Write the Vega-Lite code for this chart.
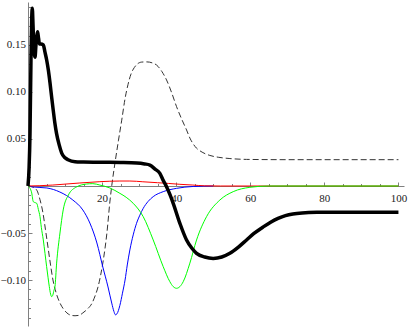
{
  "$schema": "https://vega.github.io/schema/vega-lite/v6.json",
  "width": 376,
  "height": 324,
  "autosize": "none",
  "padding": {"left": 28, "top": 2, "right": 5, "bottom": 1},
  "background": "white",
  "config": {
    "view": {"stroke": null},
    "axis": {"labelFont": "Liberation Serif", "labelFontSize": 11, "labelColor": "#222", "domainColor": "#808080", "tickColor": "#808080", "grid": false, "title": null}
  },
  "datasets": {
    "black": [
      {"x":0,"y":0},{"x":0.3,"y":0.02},{"x":0.54,"y":0.056},{"x":0.8,"y":0.134},{"x":1.0,"y":0.178},{"x":1.16,"y":0.189},{"x":1.35,"y":0.172},{"x":1.55,"y":0.15},{"x":1.89,"y":0.137},{"x":2.15,"y":0.15},{"x":2.4,"y":0.16},{"x":2.6,"y":0.164},{"x":2.85,"y":0.157},{"x":3.1,"y":0.151},{"x":3.5,"y":0.151},{"x":4.12,"y":0.15},{"x":4.6,"y":0.142},{"x":5.04,"y":0.134},{"x":5.5,"y":0.123},{"x":5.93,"y":0.11},{"x":6.4,"y":0.094},{"x":6.8,"y":0.081},{"x":7.25,"y":0.067},{"x":7.7,"y":0.056},{"x":8.4,"y":0.044},{"x":9.1,"y":0.035},{"x":10,"y":0.03},{"x":10.8,"y":0.028},{"x":12.7,"y":0.0258},{"x":15,"y":0.0255},{"x":20,"y":0.0252},{"x":25,"y":0.025},{"x":29.4,"y":0.0245},{"x":31.5,"y":0.0235},{"x":32.9,"y":0.0223},{"x":34.3,"y":0.018},{"x":35.6,"y":0.0135},{"x":36.5,"y":0.006},{"x":37.4,"y":-0.0007},{"x":38.3,"y":-0.009},{"x":39.2,"y":-0.0184},{"x":41.0,"y":-0.0397},{"x":42.8,"y":-0.0574},{"x":44.2,"y":-0.066},{"x":45.5,"y":-0.0716},{"x":47.7,"y":-0.0755},{"x":50,"y":-0.077},{"x":52.3,"y":-0.0755},{"x":54.5,"y":-0.0716},{"x":56.8,"y":-0.065},{"x":59,"y":-0.0574},{"x":61,"y":-0.0505},{"x":63.5,"y":-0.0435},{"x":65.5,"y":-0.0385},{"x":67.5,"y":-0.0345},{"x":69.5,"y":-0.0315},{"x":71.5,"y":-0.0297},{"x":74,"y":-0.0286},{"x":78,"y":-0.028},{"x":85,"y":-0.0278},{"x":100,"y":-0.0278}
    ],
    "dashed": [
      {"x":0,"y":0},{"x":1.2,"y":-0.001},{"x":2.35,"y":-0.0043},{"x":3.2,"y":-0.014},{"x":4.04,"y":-0.0287},{"x":4.7,"y":-0.046},{"x":5.39,"y":-0.0649},{"x":6.05,"y":-0.083},{"x":6.74,"y":-0.1},{"x":7.7,"y":-0.115},{"x":8.63,"y":-0.1245},{"x":9.6,"y":-0.131},{"x":10.5,"y":-0.135},{"x":11.6,"y":-0.1375},{"x":12.7,"y":-0.138},{"x":13.8,"y":-0.1375},{"x":14.8,"y":-0.135},{"x":16,"y":-0.131},{"x":17.3,"y":-0.1245},{"x":18.1,"y":-0.117},{"x":18.9,"y":-0.1074},{"x":19.6,"y":-0.095},{"x":20.2,"y":-0.0819},{"x":20.8,"y":-0.066},{"x":21.3,"y":-0.05},{"x":22.1,"y":-0.017},{"x":22.6,"y":0},{"x":23.5,"y":0.025},{"x":24.4,"y":0.048},{"x":25.3,"y":0.07},{"x":26.2,"y":0.093},{"x":27.0,"y":0.108},{"x":27.8,"y":0.119},{"x":28.7,"y":0.126},{"x":29.6,"y":0.13},{"x":30.7,"y":0.1318},{"x":32.1,"y":0.132},{"x":33.5,"y":0.131},{"x":34.7,"y":0.1287},{"x":36.1,"y":0.122},{"x":37.4,"y":0.1128},{"x":38.8,"y":0.099},{"x":40.1,"y":0.0844},{"x":41.5,"y":0.071},{"x":42.8,"y":0.0596},{"x":43.7,"y":0.051},{"x":45.1,"y":0.042},{"x":47,"y":0.036},{"x":49.1,"y":0.0325},{"x":51.5,"y":0.0305},{"x":54.5,"y":0.0292},{"x":59,"y":0.0283},{"x":70,"y":0.028},{"x":100,"y":0.028}
    ],
    "blue": [
      {"x":0,"y":0},{"x":1.35,"y":-0.001},{"x":5.1,"y":-0.0021},{"x":8.6,"y":-0.0064},{"x":12.1,"y":-0.0149},{"x":14.8,"y":-0.0255},{"x":16.7,"y":-0.0394},{"x":18.6,"y":-0.0606},{"x":20.2,"y":-0.0862},{"x":21.6,"y":-0.1074},{"x":22.6,"y":-0.1245},{"x":23.2,"y":-0.1335},{"x":23.6,"y":-0.137},{"x":24.0,"y":-0.136},{"x":24.8,"y":-0.127},{"x":25.5,"y":-0.114},{"x":26.2,"y":-0.1},{"x":26.8,"y":-0.084},{"x":27.5,"y":-0.068},{"x":28.4,"y":-0.052},{"x":29.3,"y":-0.0397},{"x":30.2,"y":-0.031},{"x":31.1,"y":-0.0238},{"x":32.4,"y":-0.0165},{"x":33.8,"y":-0.0113},{"x":36.5,"y":-0.006},{"x":40.1,"y":-0.0025},{"x":44.6,"y":-0.0005},{"x":50,"y":0}
    ],
    "red": [
      {"x":0,"y":0},{"x":3,"y":0.0003},{"x":6.7,"y":0.001},{"x":10,"y":0.002},{"x":14,"y":0.0032},{"x":19.4,"y":0.0046},{"x":24.8,"y":0.0053},{"x":27.5,"y":0.0053},{"x":31,"y":0.0045},{"x":35,"y":0.0035},{"x":38,"y":0.0027},{"x":41,"y":0.0018},{"x":44.5,"y":0.001},{"x":47.7,"y":0.0002},{"x":52,"y":0},{"x":100,"y":0}
    ],
    "green": [
      {"x":0,"y":0},{"x":0.5,"y":-0.002},{"x":1.0,"y":-0.0074},{"x":1.43,"y":-0.0167},{"x":1.8,"y":-0.0175},{"x":2.35,"y":-0.0184},{"x":2.8,"y":-0.025},{"x":3.24,"y":-0.0326},{"x":3.6,"y":-0.044},{"x":4.13,"y":-0.0574},{"x":4.6,"y":-0.072},{"x":5.03,"y":-0.0858},{"x":5.4,"y":-0.097},{"x":5.75,"y":-0.107},{"x":6.1,"y":-0.115},{"x":6.39,"y":-0.1177},{"x":6.7,"y":-0.116},{"x":7.0,"y":-0.111},{"x":7.28,"y":-0.107},{"x":7.73,"y":-0.082},{"x":8.63,"y":-0.05},{"x":9.5,"y":-0.0255},{"x":10.9,"y":-0.0096},{"x":13.1,"y":-0.001},{"x":15.8,"y":0.0021},{"x":17.5,"y":0.0025},{"x":19.4,"y":0.001},{"x":22.1,"y":-0.0021},{"x":24.8,"y":-0.0078},{"x":26.5,"y":-0.012},{"x":28.4,"y":-0.0184},{"x":31.1,"y":-0.0326},{"x":33.8,"y":-0.0574},{"x":36.5,"y":-0.0858},{"x":38.3,"y":-0.1018},{"x":39.2,"y":-0.107},{"x":40.1,"y":-0.1088},{"x":41.0,"y":-0.107},{"x":41.9,"y":-0.1018},{"x":43.7,"y":-0.082},{"x":45.5,"y":-0.0574},{"x":48.2,"y":-0.0326},{"x":51.8,"y":-0.0149},{"x":55.4,"y":-0.006},{"x":59.9,"y":-0.0014},{"x":65,"y":0},{"x":100,"y":0}
    ]
  },
  "resolve": {"axis": {"x": "independent", "y": "independent"}},
  "layer": [
    {
      "data": {"name": "dashed"},
      "mark": {"type": "line", "color": "#333333", "strokeWidth": 1, "strokeDash": [6, 3], "interpolate": "monotone"},
      "encoding": {
        "x": {"field": "x", "type": "quantitative", "scale": {"domain": [0, 101.5], "nice": false, "zero": false},
          "axis": {"orient": "bottom", "offset": -140, "values": [5,10,15,25,30,35,45,50,55,65,70,75,85,90,95], "labels": false, "tickSize": -2.5, "domain": true}},
        "y": {"field": "y", "type": "quantitative", "scale": {"domain": [-0.1489, 0.1957], "nice": false, "zero": false},
          "axis": {"orient": "left", "values": [-0.14,-0.13,-0.12,-0.11,-0.09,-0.08,-0.07,-0.06,-0.04,-0.03,-0.02,-0.01,0.01,0.02,0.03,0.04,0.06,0.07,0.08,0.09,0.11,0.12,0.13,0.14,0.16,0.17,0.18,0.19], "labels": false, "tickSize": -2.5, "domain": true}}
      }
    },
    {
      "data": {"name": "blue"},
      "mark": {"type": "line", "color": "#0000ff", "strokeWidth": 1, "interpolate": "monotone"},
      "encoding": {
        "x": {"field": "x", "type": "quantitative",
          "axis": {"orient": "bottom", "offset": -140, "values": [20,40,60,80,100], "tickSize": -4, "labelPadding": 10, "domain": false}},
        "y": {"field": "y", "type": "quantitative",
          "axis": {"orient": "left", "values": [-0.1,-0.05,0.05,0.1,0.15], "format": ".2f", "tickSize": -4, "labelPadding": 6.5, "domain": false}}
      }
    },
    {
      "data": {"name": "red"},
      "mark": {"type": "line", "color": "#ff0000", "strokeWidth": 1, "interpolate": "monotone"},
      "encoding": {
        "x": {"field": "x", "type": "quantitative", "axis": null},
        "y": {"field": "y", "type": "quantitative", "axis": null}
      }
    },
    {
      "data": {"name": "green"},
      "mark": {"type": "line", "color": "#00ff00", "strokeWidth": 1, "interpolate": "monotone"},
      "encoding": {
        "x": {"field": "x", "type": "quantitative", "axis": null},
        "y": {"field": "y", "type": "quantitative", "axis": null}
      }
    },
    {
      "data": {"name": "black"},
      "mark": {"type": "line", "color": "#000000", "strokeWidth": 3.5, "interpolate": "monotone"},
      "encoding": {
        "x": {"field": "x", "type": "quantitative", "axis": null},
        "y": {"field": "y", "type": "quantitative", "axis": null}
      }
    }
  ]
}
